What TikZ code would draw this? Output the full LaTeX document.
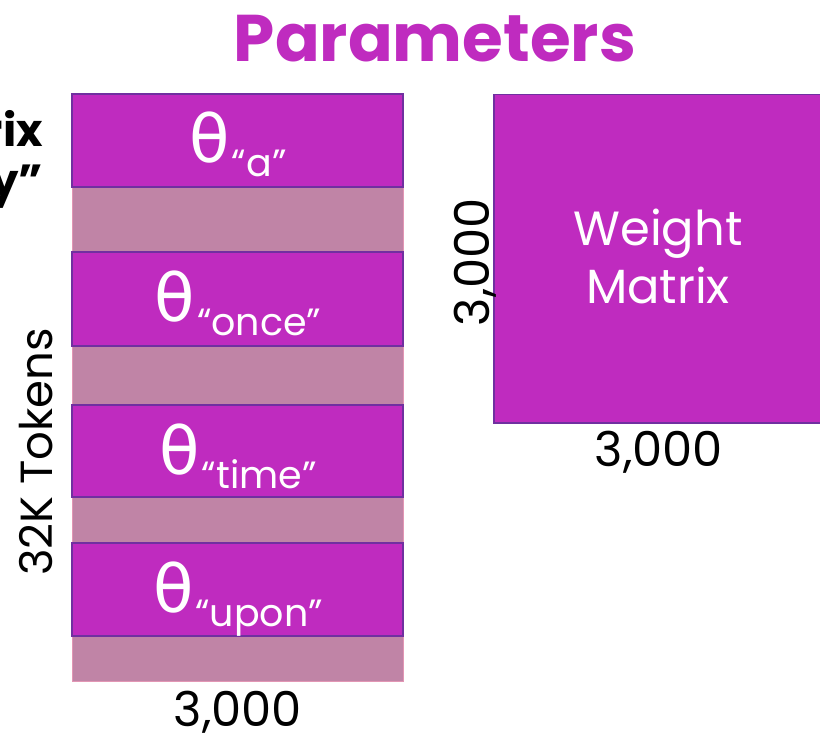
\documentclass[tikz,border=0pt]{standalone}
\usepackage{fontspec}
\setmainfont{Poppins}
\newfontfamily\thetafont{DejaVu Sans}
\definecolor{mag}{RGB}{191,43,191}
\definecolor{rowbg}{RGB}{192,132,166}
\definecolor{rowedge}{RGB}{226,150,180}
\definecolor{edgepurple}{RGB}{112,48,160}
\tikzset{
  colbg/.style={rectangle, fill=rowbg, draw=rowedge, line width=0.8pt, minimum width=331pt, inner sep=0pt},
  tokbox/.style={rectangle, fill=mag, draw=edgepurple, line width=2pt, minimum width=331pt, inner sep=0pt},
  toklabel/.style={anchor=base, text=white, inner sep=0pt},
  dimlabel/.style={text=black, inner sep=0pt, font=\fontsize{48}{50}\selectfont},
}
\newcommand{\thlabel}[1]{{\thetafont\fontsize{66}{68}\selectfont θ}\hspace{2pt}\raisebox{-14pt}{\fontsize{38}{40}\selectfont “#1”}}
\begin{document}
\begin{tikzpicture}[x=1pt,y=-1pt]
\useasboundingbox (0,0) rectangle (820,738);
% title
\node[anchor=base, text=mag, inner sep=0pt, font=\fontsize{66}{68}\selectfont\bfseries] (title) at (435,62) {Parameters};
% cut off left label
\node[anchor=base east, inner sep=0pt, font=\fontsize{45}{48}\selectfont\bfseries] (lab1) at (43,147) {rix};
\node[anchor=base east, inner sep=0pt, font=\fontsize{45}{48}\selectfont\bfseries] (lab2) at (43,197) {y”};
% column
\node[colbg, minimum height=588pt] (col) at (237.5,387) {};
\node[tokbox, minimum height=93pt] (t1) at (237.5,140.5) {};
\node[tokbox, minimum height=94pt] (t2) at (237.5,299) {};
\node[tokbox, minimum height=92pt] (t3) at (237.5,451) {};
\node[tokbox, minimum height=93pt] (t4) at (237.5,589.5) {};
\node[toklabel] (l1) at (238,163) {\thlabel{a}};
\node[toklabel] (l2) at (238,322) {\thlabel{once}};
\node[toklabel] (l3) at (238,474) {\thlabel{time}};
\node[toklabel] (l4) at (238,612) {\thlabel{upon}};
% dimension labels of column
\node[dimlabel, anchor=base, rotate=90, font=\fontsize{45}{48}\selectfont] (tok) at (52,452) {32K Tokens};
\node[dimlabel, anchor=base] (cw) at (238,726) {3,000};
% weight matrix
\node[rectangle, fill=mag, draw=edgepurple, line width=1.5pt, minimum width=340pt, minimum height=328pt, anchor=north west] (wm) at (493,94) {};
\node[anchor=base, text=white, inner sep=0pt, font=\fontsize{48}{50}\selectfont] (w1) at (658,246) {Weight};
\node[anchor=base, text=white, inner sep=0pt, font=\fontsize{48}{50}\selectfont] (w2) at (658,304) {Matrix};
\node[dimlabel, anchor=base] (mw) at (659,466) {3,000};
\node[dimlabel, anchor=base, rotate=90] (mh) at (489,262) {3,000};
\end{tikzpicture}
\end{document}
